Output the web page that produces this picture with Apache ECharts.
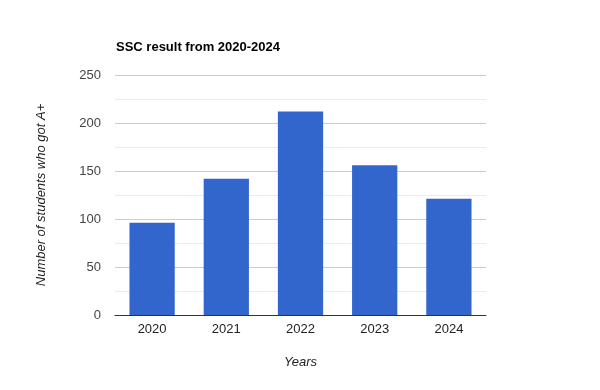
<!DOCTYPE html>
<html>
<head>
<meta charset="utf-8">
<script src="https://cdn.jsdelivr.net/npm/echarts@6/dist/echarts.min.js"></script>
<style>
  html, body { margin: 0; padding: 0; background: #fff; }
  #chart { width: 600px; height: 390px; }
</style>
</head>
<body>
<div id="chart"></div>
<script>
// data
var years = ['2020', '2021', '2022', '2023', '2024'];
var aPlusCounts = [96, 142, 212, 156, 121];
var yTicks = { min: 0, max: 250, step: 50 };

var chart = echarts.init(document.getElementById('chart'));
var font = 'Arial, "Liberation Sans", sans-serif';

chart.setOption({
    animation: false,
    title: {
        text: 'SSC result from 2020-2024',
        left: 116,
        top: 41,
        padding: 0,
        textStyle: { fontFamily: font, fontSize: 13, fontWeight: 'bold', color: '#000' }
    },
    grid: { left: 115, right: 114, top: 75, bottom: 75 },
    xAxis: {
        type: 'category',
        data: years,
        name: 'Years',
        nameLocation: 'middle',
        nameGap: 41,
        nameTextStyle: { fontFamily: font, fontSize: 13, fontStyle: 'italic', color: '#222' },
        axisLine: { lineStyle: { color: '#333', width: 1 } },
        axisTick: { show: false },
        axisLabel: { fontFamily: font, fontSize: 13, color: '#222', margin: 8 }
    },
    yAxis: {
        type: 'value',
        min: yTicks.min,
        max: yTicks.max,
        interval: yTicks.step,
        name: 'Number of students who got A+',
        nameLocation: 'middle',
        nameGap: 67,
        nameTextStyle: { fontFamily: font, fontSize: 13, fontStyle: 'italic', color: '#222' },
        axisLine: { show: false },
        axisTick: { show: false },
        axisLabel: { fontFamily: font, fontSize: 13, color: '#444', margin: 14 },
        splitLine: { lineStyle: { color: '#cccccc', width: 1 } },
        minorTick: { show: false, splitNumber: 2 },
        minorSplitLine: { show: true, lineStyle: { color: '#ebebeb', width: 1 } }
    },
    series: [{
        type: 'bar',
        data: aPlusCounts,
        barWidth: '61%',
        itemStyle: { color: '#3366cc' }
    }]
});
</script>
</body>
</html>
